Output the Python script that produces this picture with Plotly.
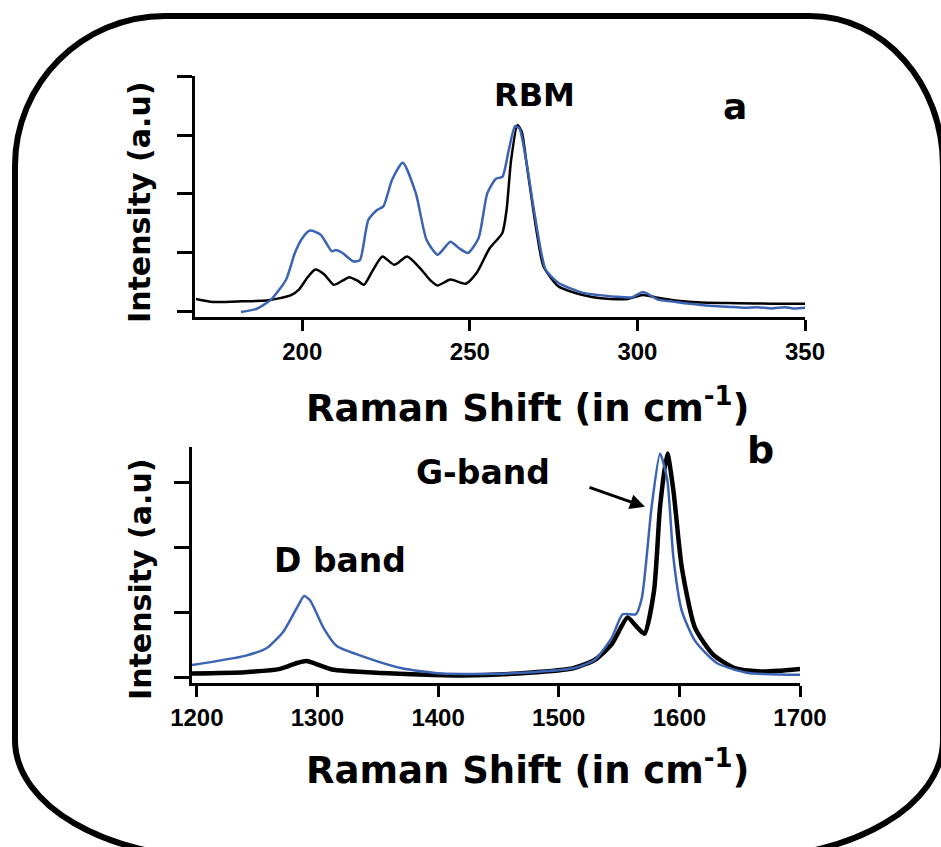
import plotly.graph_objects as go

W, H = 941, 847

# ---------------- data ----------------
rbm_black_x = [168.3, 173.3, 182, 190, 196.5, 199, 201.5, 203.9, 206.5, 209.4, 212, 214, 216.5, 218.4,
               221, 223.9, 227.5, 231.3, 235.2, 238, 240.4, 244.2, 248.8, 252, 255.9, 259.7, 261,
               262.3, 264.2, 265.5, 266.8, 268.5, 270, 272, 276.5, 281, 286.8, 292, 297.1, 301.6,
               306.1, 312, 319, 330, 340, 350]
rbm_black_y = [0.22, 0.17, 0.18, 0.2, 0.28, 0.38, 0.58, 0.72, 0.64, 0.46, 0.53, 0.59, 0.53, 0.46,
               0.7, 0.94, 0.8, 0.94, 0.74, 0.55, 0.45, 0.55, 0.48, 0.66, 1.08, 1.34, 1.75,
               2.57, 3.17, 3.05, 2.57, 1.9, 1.34, 0.77, 0.43, 0.33, 0.25, 0.22, 0.22, 0.29,
               0.24, 0.19, 0.16, 0.15, 0.14, 0.14]

rbm_blue_x = [181.7, 186.2, 190.7, 195.2, 197.8, 200, 202.3, 205.5, 208.8, 210, 212, 215.2, 217.2,
              219.7, 222.3, 224.2, 226.8, 230, 233.9, 237.1, 240.4, 244.2, 246.8, 249.4, 252.6,
              255.2, 257.8, 259.7, 261.6, 263.5, 264.8, 266.8, 269.3, 272.6, 276.5, 280, 284.2,
              288, 293.3, 298.4, 301.6, 303, 306.1, 310, 314, 319, 323, 327, 331.9, 336, 340,
              344, 347, 350]
rbm_blue_y = [0.0, 0.05, 0.21, 0.55, 1.0, 1.25, 1.38, 1.31, 1.03, 1.05, 1.0, 0.86, 0.88,
              1.56, 1.73, 1.79, 2.24, 2.53, 2.01, 1.22, 0.97, 1.19, 1.08, 1.0, 1.25,
              2.01, 2.26, 2.29, 2.74, 3.15, 3.11, 2.57, 1.67, 0.72, 0.49, 0.4, 0.32,
              0.29, 0.26, 0.25, 0.34, 0.31, 0.21, 0.18, 0.15, 0.12, 0.1, 0.09, 0.07, 0.08, 0.06,
              0.08, 0.06, 0.07]

gd_black_x = [1196, 1240, 1269, 1283, 1291, 1301, 1312, 1349, 1421, 1475, 1512, 1530, 1544, 1557,
              1564, 1571, 1579, 1584, 1590, 1595, 1602, 1613, 1628, 1646, 1667, 1682, 1700]
gd_black_y = [0.07, 0.09, 0.14, 0.23, 0.26, 0.2, 0.13, 0.08, 0.04, 0.08, 0.15, 0.28, 0.52, 0.93,
              0.8, 0.68, 1.34, 2.63, 3.45, 2.89, 1.7, 0.77, 0.36, 0.15, 0.1, 0.11, 0.14]

gd_blue_x = [1196, 1240, 1258, 1272, 1283, 1289, 1294, 1305, 1316, 1341, 1370, 1403, 1457, 1512,
             1530, 1544, 1553, 1564, 1569, 1577, 1584, 1590, 1595, 1602, 1613, 1631, 1656, 1700]
gd_blue_y = [0.2, 0.34, 0.46, 0.72, 1.08, 1.26, 1.19, 0.77, 0.49, 0.31, 0.15, 0.07, 0.07, 0.15,
             0.28, 0.62, 0.98, 0.98, 1.24, 2.63, 3.45, 3.04, 1.86, 1.03, 0.57, 0.23, 0.08, 0.05]

top_xticks = [200, 250, 300, 350]
bot_xticks = [1200, 1300, 1400, 1500, 1600, 1700]
top_yticks = [0, 1, 2, 3, 4]
bot_yticks = [0, 1, 2, 3]

BLUE = "#3b63b3"
TXT = "DejaVu Sans"


def px(x):
    return x / W


def py(y):
    return 1 - y / H


fig = go.Figure()
fig.add_trace(go.Scatter(x=rbm_black_x, y=rbm_black_y, mode="lines",
                         line=dict(color="black", width=2.5, shape="spline", smoothing=0.6),
                         xaxis="x", yaxis="y", showlegend=False))
fig.add_trace(go.Scatter(x=rbm_blue_x, y=rbm_blue_y, mode="lines",
                         line=dict(color=BLUE, width=2.5, shape="spline", smoothing=0.6),
                         xaxis="x", yaxis="y", showlegend=False))
fig.add_trace(go.Scatter(x=gd_black_x, y=gd_black_y, mode="lines",
                         line=dict(color="black", width=4.5, shape="spline", smoothing=0.6),
                         xaxis="x2", yaxis="y2", showlegend=False))
fig.add_trace(go.Scatter(x=gd_blue_x, y=gd_blue_y, mode="lines",
                         line=dict(color=BLUE, width=2.5, shape="spline", smoothing=0.6),
                         xaxis="x2", yaxis="y2", showlegend=False))

axis_common = dict(showline=True, linecolor="black", linewidth=3, ticks="outside",
                   tickcolor="black", tickwidth=3, showgrid=False, zeroline=False,
                   automargin=False)
tickfont = dict(family="Liberation Sans", size=24, color="black", weight="bold")

fig.update_layout(
    width=W, height=H, autosize=False,
    margin=dict(l=0, r=0, t=0, b=0, pad=0, autoexpand=False),
    paper_bgcolor="white", plot_bgcolor="white",
    xaxis=dict(domain=[px(195), px(805)], range=[168, 350], tickvals=top_xticks,
               ticklen=11, tickfont=tickfont, anchor="y", **axis_common),
    yaxis=dict(domain=[py(317), py(76)], range=[-0.085, 4], tickvals=top_yticks,
               showticklabels=False, ticklen=15, anchor="x", **axis_common),
    xaxis2=dict(domain=[px(192), px(800)], range=[1196, 1700], tickvals=bot_xticks,
                ticklen=11, tickfont=tickfont, anchor="y2", **axis_common),
    yaxis2=dict(domain=[py(683), py(447)], range=[-0.077, 3.55], tickvals=bot_yticks,
                showticklabels=False, ticklen=15, anchor="x2", **axis_common),
)

# rounded frame
k = 0.5523
L, T, R, B = 15, 16, 943, 858
tl, tr, br, bl = (150, 150), (133, 150), (200, 118), (203, 118)


def P(x, y):
    return f"{px(x):.5f},{py(y):.5f}"


path = (f"M {P(L, T + tl[1])} "
        f"C {P(L, T + tl[1] * (1 - k))} {P(L + tl[0] * (1 - k), T)} {P(L + tl[0], T)} "
        f"L {P(R - tr[0], T)} "
        f"C {P(R - tr[0] * (1 - k), T)} {P(R, T + tr[1] * (1 - k))} {P(R, T + tr[1])} "
        f"L {P(R, B - br[1])} "
        f"C {P(R, B - br[1] * (1 - k))} {P(R - br[0] * (1 - k), B)} {P(R - br[0], B)} "
        f"L {P(L + bl[0], B)} "
        f"C {P(L + bl[0] * (1 - k), B)} {P(L, B - bl[1] * (1 - k))} {P(L, B - bl[1])} Z")
fig.add_shape(type="path", path=path, xref="paper", yref="paper",
              line=dict(color="black", width=6), layer="above")


def ann(text, x, y, size, angle=0):
    fig.add_annotation(text=text, x=px(x), y=py(y), xref="paper", yref="paper",
                       showarrow=False, textangle=angle, xanchor="center", yanchor="middle",
                       font=dict(family=TXT, size=size, color="black", weight="bold"))


ann("RBM", 534, 95, 32)
ann("a", 735, 106, 36)
ann("b", 760, 450, 38)
ann("G-band", 483, 472, 33)
ann("D band", 340, 560, 33)
ann("Raman Shift (in cm<sup>-1</sup>)", 528, 405, 37)
ann("Raman Shift (in cm<sup>-1</sup>)", 528, 767, 37)
ann("Intensity (a.u)", 140, 203, 30, -90)
ann("Intensity (a.u)", 140, 580, 30, -90)

# arrow pointing at G-band
fig.add_annotation(x=1571.5, y=2.63, xref="x2", yref="y2", text="", showarrow=True,
                   ax=-57, ay=-20, arrowhead=2, arrowsize=1, arrowwidth=3, arrowcolor="black")

fig.write_html("out.html")
